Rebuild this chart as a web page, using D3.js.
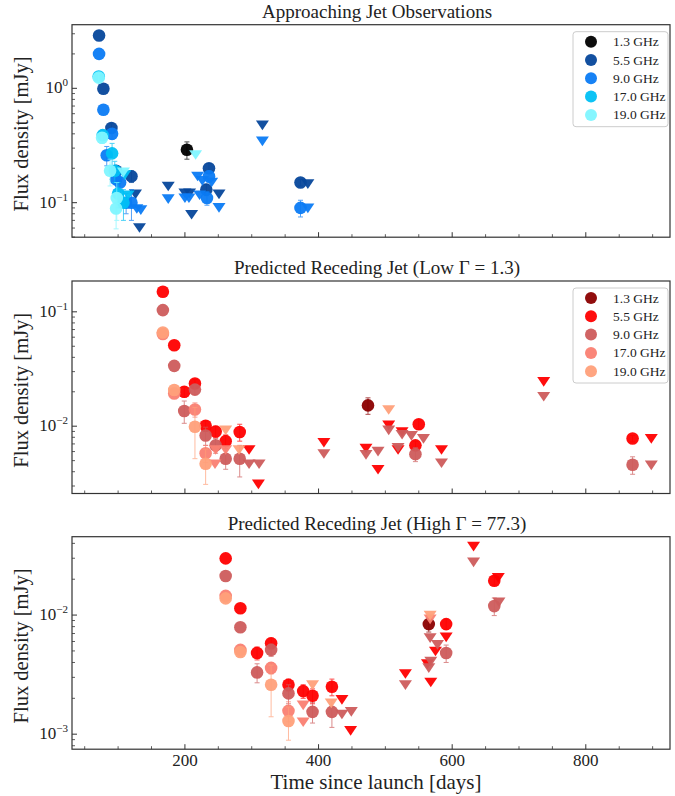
<!DOCTYPE html>
<html><head><meta charset="utf-8">
<script src="https://cdn.jsdelivr.net/npm/d3@7"></script>
<style>
body{margin:0;background:#fff}
svg{display:block}
text{font-family:"Liberation Serif","Times New Roman",serif;fill:#222}
</style>
</head><body><svg id="c" width="675" height="796"></svg>
<script>
// ---------- data ----------
const freqLabels = ["1.3 GHz","5.5 GHz","9.0 GHz","17.0 GHz","19.0 GHz"];
const blueColors = ["#000000","#06479b","#0b7bf4","#00c0f4","#80f6ff"];
const redColors  = ["#8b0000","#ff0000","#cd5c5c","#fa8072","#ffa07a"];
const dayTicks = [200,400,600,800];
const xDomain = [31, 926];
const titles = ["Approaching Jet Observations","Predicted Receding Jet (Low \u0393 = 1.3)","Predicted Receding Jet (High \u0393 = 77.3)"];
const yDomainTop = [0.0499, 3.6];
const yDomainLow = [0.00258, 0.186];
const yDomainHigh = [0.000748, 0.0455];
const yTicksTop = [0.1, 1];
const yTicksLow = [0.01, 0.1];
const yTicksHigh = [0.001, 0.01];

// rows: [frequency index, day, flux (mJy), error]
const approachDet = [
 [0,203,0.29,0.05],
 [1,71.5,2.9,0],[1,78,0.99,0],[1,90,0.45,0.04],[1,97,0.19,0.02],[1,120,0.17,0.02],[1,232,0.13,0.015],[1,236,0.20,0.02],[1,373,0.15,0.01],
 [2,71.5,2.0,0],[2,78,0.65,0],[2,91,0.40,0.04],[2,83,0.26,0.05],[2,97,0.16,0.03],[2,103,0.15,0.03],[2,112,0.10,0.02],[2,120,0.10,0.03],[2,233,0.11,0.015],[2,236,0.17,0.02],[2,373,0.09,0.015],
 [3,71,1.27,0.1],[3,77,0.39,0.04],[3,91,0.27,0.06],[3,95,0.19,0.04],[3,100,0.12,0.03],[3,108,0.10,0.03],
 [4,71,1.24,0.1],[4,76,0.37,0.04],[4,88,0.19,0.05],[4,98,0.11,0.04],[4,97,0.089,0.03]
];
// rows: [frequency index, day, upper limit (mJy)]
const approachLim = [
 [1,126,0.122],[1,132,0.062],[1,175,0.143],[1,200,0.125],[1,207,0.125],[1,210,0.081],[1,251,0.122],[1,316,0.49],[1,384,0.15],
 [2,128,0.091],[2,134,0.089],[2,175,0.111],[2,200,0.113],[2,206,0.113],[2,219,0.175],[2,222,0.12],[2,226,0.16],[2,240,0.155],[2,251,0.093],[2,316,0.355],[2,384,0.092],
 [3,110,0.18],[3,115,0.12],
 [4,108,0.19],[4,216,0.27]
];
const lowDet = [
 [0,474,0.0152,0.0025],
 [1,167,0.150,0],[1,184,0.051,0],[1,199,0.020,0.002],[1,215,0.0236,0.002],[1,231,0.0101,0.001],[1,246,0.0090,0.001],[1,261,0.0074,0.001],[1,282,0.0089,0.0015],[1,545,0.0068,0.0006],[1,550,0.0104,0.001],[1,870,0.0078,0.0005],
 [2,167,0.1035,0],[2,184,0.0337,0],[2,199,0.0136,0.003],[2,215,0.0209,0.002],[2,231,0.0083,0.0015],[2,246,0.0068,0.001],[2,261,0.0052,0.001],[2,282,0.0052,0.0016],[2,545,0.0057,0.0008],[2,870,0.0046,0.0008],
 [3,167,0.064,0.003],[3,184,0.0193,0.001],[3,215,0.014,0.002],[3,231,0.0058,0.001],
 [4,167,0.066,0.003],[4,184,0.0207,0.001],[4,215,0.0099,0.0047],[4,231,0.0047,0.0016]
];
const lowLim = [
 [1,296,0.0064],[1,310,0.0032],[1,408,0.0074],[1,471,0.0066],[1,489,0.0043],[1,505,0.0105],[1,519,0.0064],[1,525,0.0092],[1,584,0.0064],[1,737,0.0252],[1,898,0.0080],
 [2,296,0.0048],[2,311,0.0048],[2,408,0.0059],[2,471,0.0058],[2,489,0.0062],[2,505,0.0095],[2,519,0.0067],[2,525,0.0087],[2,539,0.0085],[2,557,0.008],[2,584,0.0049],[2,737,0.0187],[2,898,0.0047],
 [3,245,0.0048],[3,246,0.0064],[3,261,0.0064],
 [4,261,0.0095],[4,281,0.0064],[4,505,0.0143]
];
const highDet = [
 [0,565,0.0084,0.0012],
 [1,261,0.0299,0],[1,283,0.0114,0],[1,308,0.0048,0.0006],[1,329,0.0058,0.0006],[1,355,0.0026,0.0003],[1,377,0.0023,0.0003],[1,391,0.0021,0.0003],[1,420,0.0025,0.0004],[1,591,0.0084,0.0008],[1,663,0.0194,0.0015],
 [2,261,0.0213,0],[2,283,0.0079,0],[2,308,0.0033,0.0006],[2,329,0.0051,0.0006],[2,355,0.0022,0.0004],[2,391,0.00154,0.0003],[2,420,0.00154,0.0004],[2,591,0.0048,0.0008],[2,663,0.0119,0.002],
 [3,261,0.0145,0.001],[3,283,0.0051,0.0004],[3,329,0.0036,0.0004],[3,355,0.00157,0.0003],
 [4,261,0.0138,0.001],[4,283,0.0049,0.0004],[4,329,0.0026,0.0012],[4,355,0.00129,0.0004]
];
const highLim = [
 [1,435,0.0020],[1,448,0.0011],[1,530,0.0033],[1,563,0.0040],[1,568,0.0028],[1,575,0.0051],[1,591,0.0067],[1,632,0.0387],[1,669,0.0212],
 [2,435,0.00151],[2,449,0.00159],[2,530,0.00266],[2,565,0.0037],[2,567,0.0066],[2,568,0.0042],[2,578,0.0058],[2,632,0.0286],[2,670,0.0132],
 [3,377,0.0018],[3,377,0.0013],[3,567,0.0095],
 [4,391,0.00266],[4,419,0.00187],[4,567,0.0102]
];

// ---------- layout ----------
const svg = d3.select("#c");
const left = 72, right = 670, ph = 212.5;
const panelTops = [24.7, 281, 536.7];
const x = d3.scaleLinear().domain(xDomain).range([left, right]);

const panels = [
 {title: titles[0], det: approachDet, lim: approachLim, ydom: yDomainTop, yt: yTicksTop, colors: blueColors, legend: true},
 {title: titles[1], det: lowDet, lim: lowLim, ydom: yDomainLow, yt: yTicksLow, colors: redColors, legend: true},
 {title: titles[2], det: highDet, lim: highLim, ydom: yDomainHigh, yt: yTicksHigh, colors: redColors, legend: false}
];

function expLabel(sel, v){
  const e = Math.round(Math.log10(v));
  sel.text("10");
  sel.append("tspan").attr("dy", -7).attr("font-size", 11).text(String(e).replace("-", "\u2212"));
}

function tri(s){ // downward triangle
  const w = s, h = s*0.9;
  return `M${-w},${-h*0.55}L${w},${-h*0.55}L0,${h*1.1}Z`;
}

panels.forEach((p, i) => {
  const top = panelTops[i], bottom = top + ph;
  const y = d3.scaleLog().domain(p.ydom).range([bottom, top]);
  const g = svg.append("g");

  // title
  g.append("text").attr("x", (left+right)/2 + 6).attr("y", top - 7)
    .attr("text-anchor","middle").attr("font-size", 19).text(p.title);

  // y label
  g.append("text").attr("transform", `translate(28,${top+ph/2 + 3}) rotate(-90)`)
    .attr("text-anchor","middle").attr("font-size", 20.5).text("Flux density [mJy]");

  // ticks - y major/minor (inward)
  const lo = Math.floor(Math.log10(p.ydom[0])), hi = Math.ceil(Math.log10(p.ydom[1]));
  const minors = [];
  for (let e = lo; e <= hi; e++) for (let k = 2; k <= 9; k++) {
    const v = k*Math.pow(10,e);
    if (v >= p.ydom[0] && v <= p.ydom[1]) minors.push(v);
  }
  g.selectAll(null).data(minors).join("line")
    .attr("x1", left).attr("x2", left+3).attr("y1", d=>y(d)).attr("y2", d=>y(d))
    .attr("stroke","#333").attr("stroke-width",0.8);
  g.selectAll(null).data(p.yt).join("line")
    .attr("x1", left).attr("x2", left+5).attr("y1", d=>y(d)).attr("y2", d=>y(d))
    .attr("stroke","#333").attr("stroke-width",1);
  g.selectAll(null).data(p.yt).join("text")
    .attr("x", left-4).attr("y", d=>y(d)+5).attr("text-anchor","end").attr("font-size",17)
    .each(function(d){ expLabel(d3.select(this), d); });

  // x ticks
  const xMinor = d3.range(50, 926, 50).filter(d => dayTicks.indexOf(d) < 0);
  g.selectAll(null).data(xMinor).join("line")
    .attr("x1", d=>x(d)).attr("x2", d=>x(d)).attr("y1", bottom).attr("y2", bottom-3)
    .attr("stroke","#333").attr("stroke-width",0.8);
  g.selectAll(null).data(dayTicks).join("line")
    .attr("x1", d=>x(d)).attr("x2", d=>x(d)).attr("y1", bottom).attr("y2", bottom-5)
    .attr("stroke","#333").attr("stroke-width",1);
  if (i === 2) {
    g.selectAll(null).data(dayTicks).join("text")
      .attr("x", d=>x(d)).attr("y", bottom+17).attr("text-anchor","middle").attr("font-size",17)
      .text(d=>d);
  }

  // frame
  g.append("rect").attr("x", left).attr("y", top).attr("width", right-left).attr("height", ph)
    .attr("fill","none").attr("stroke","#333").attr("stroke-width",1.2);

  // data
  const clipId = "clip"+i;
  svg.append("clipPath").attr("id", clipId).append("rect")
    .attr("x", left).attr("y", top).attr("width", right-left).attr("height", ph);
  const dg = g.append("g").attr("clip-path", `url(#${clipId})`);
  for (let f = 0; f < 5; f++) {
    const col = p.colors[f];
    const det = p.det.filter(r => r[0] === f);
    const lim = p.lim.filter(r => r[0] === f);
    const eb = det.filter(r => r[3] > 0);
    const ebg = dg.append("g").attr("stroke", col).attr("stroke-width",1).attr("opacity",0.7);
    eb.forEach(r => {
      const cx = x(r[1]), y1 = y(Math.max(r[2]-r[3], p.ydom[0]*0.5)), y2 = y(r[2]+r[3]);
      ebg.append("line").attr("x1",cx).attr("x2",cx).attr("y1",y1).attr("y2",y2);
      ebg.append("line").attr("x1",cx-2.5).attr("x2",cx+2.5).attr("y1",y1).attr("y2",y1);
      ebg.append("line").attr("x1",cx-2.5).attr("x2",cx+2.5).attr("y1",y2).attr("y2",y2);
    });
    dg.selectAll(null).data(det).join("circle")
      .attr("cx", r=>x(r[1])).attr("cy", r=>y(r[2])).attr("r", 6.3)
      .attr("fill", col).attr("opacity", 0.95);
    dg.selectAll(null).data(lim).join("path")
      .attr("transform", r=>`translate(${x(r[1])},${y(r[2])})`).attr("d", tri(6.5))
      .attr("fill", col).attr("opacity", 0.95);
  }

  // legend
  if (p.legend) {
    const lx = 573, ly = top + 7, lw = 95, lh = 95;
    const lg = g.append("g");
    lg.append("rect").attr("x", lx).attr("y", ly).attr("width", lw).attr("height", lh)
      .attr("rx", 3).attr("fill","#fff").attr("fill-opacity",0.85).attr("stroke","#ccc").attr("stroke-width",1);
    freqLabels.forEach((lab, k) => {
      const yy = ly + 10 + k*18.3;
      lg.append("circle").attr("cx", 591).attr("cy", yy).attr("r", 6).attr("fill", p.colors[k]).attr("opacity",0.95);
      lg.append("text").attr("x", 613).attr("y", yy+4.5).attr("font-size", 13.5).text(lab);
    });
  }
});

// x label
svg.append("text").attr("x", (left+right)/2 + 5).attr("y", 789).attr("text-anchor","middle")
  .attr("font-size", 21).text("Time since launch [days]");
</script>
</body></html>
